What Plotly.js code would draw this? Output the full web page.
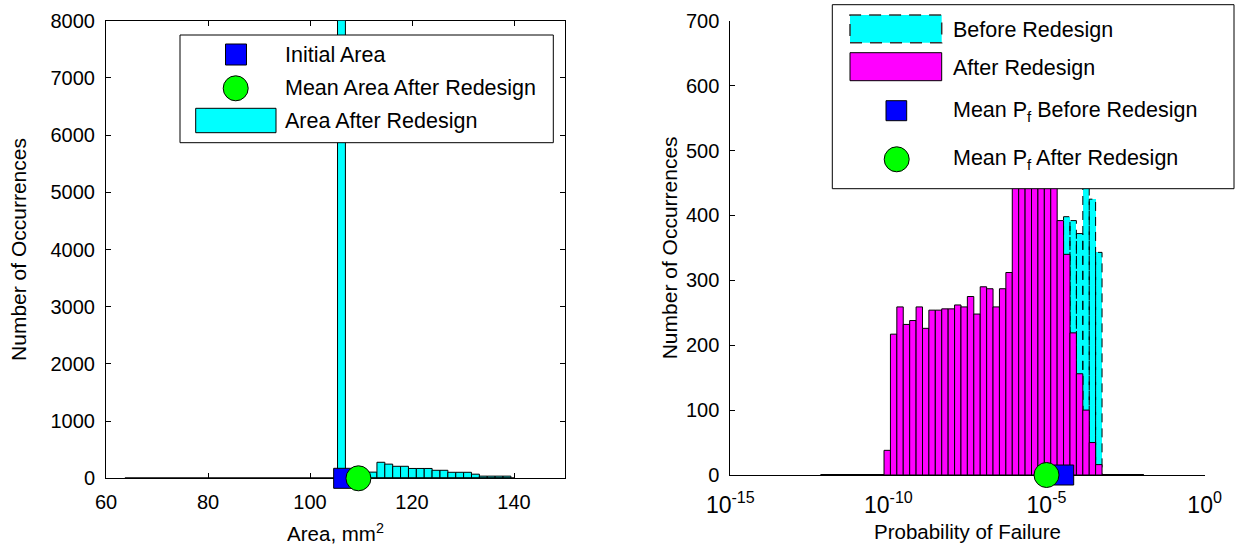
<!DOCTYPE html>
<html>
<head>
<meta charset="utf-8">
<script src="https://cdn.plot.ly/plotly-3.0.1.min.js"></script>
<style>html,body{margin:0;padding:0;background:#fff;}#chart{width:1239px;height:548px;}</style>
</head>
<body>
<div id="chart"></div>
<script>
// ---------------- DATA ----------------
// Left: histogram of area after redesign (bin centres, mm^2) and counts
const areaBinCenters = [106.17, 107.72, 109.26, 110.81, 112.35, 113.90, 115.44, 116.99, 118.53, 120.08, 121.62,
                        123.17, 124.71, 126.26, 127.80, 129.35, 130.89, 132.44, 133.98, 135.53, 137.07, 138.62];
const areaCounts = [9500, 60, 80, 95, 108, 280, 248, 210, 210, 172, 172,
                    172, 140, 140, 105, 105, 105, 72, 38, 38, 38, 38];
const areaBinWidth = 1.545;
const areaHistSpan = [63.7, 140.0];      // extent of (mostly empty) histogram bins
const initialArea = 106.6;
const meanAreaAfter = 109.5;

// Right: histogram of log10(Pf) (bin centres as exponents) and counts
const pfBinCentersExp = [-10.037, -9.834, -9.632, -9.429, -9.226, -9.023, -8.820, -8.618, -8.415, -8.212,
                         -8.009, -7.806, -7.604, -7.401, -7.198, -6.995, -6.792, -6.590, -6.387, -6.184,
                         -5.981, -5.778, -5.576, -5.373, -5.170, -4.967, -4.764, -4.562, -4.359, -4.156,
                         -3.953, -3.750, -3.548, -3.345];
const pfBinWidthExp = 0.2028;
const pfAfterCounts = [38, 217, 259, 232, 238, 259, 226, 254, 254, 256,
                       256, 262, 259, 275, 248, 290, 287, 259, 287, 312,
                       480, 510, 530, 545, 535, 505, 470, 392, 340, 219,
                       156, 100, 50, 16];
// Before redesign: only bins visible to the right of the magenta bars
const pfBeforeBinCentersExp = [-4.359, -4.156, -3.953, -3.750, -3.548, -3.345];
const pfBeforeCounts = [398, 392, 372, 460, 425, 343];
const pfHistSpanExp = [-12.15, -1.92];
const meanPfBefore = 3.5e-5;
const meanPfAfter = 1.0e-5;

const xTickAreas = [60, 80, 100, 120, 140];
const pfTickVals = [1e-15, 1e-10, 1e-5, 1];
const pfTickText = ['10<sup>-15</sup>', '10<sup>-10</sup>', '10<sup>-5</sup>', '10<sup>0</sup>'];

// ---------------- STYLE / LAYOUT ----------------
const W = 1239, H = 548;
const X = v => v / W;
const Y = v => 1 - v / H;
const FONT = 'Liberation Sans, Arial, Helvetica, sans-serif';
const CYAN = '#00FFFF', MAGENTA = '#FF00FF', BLUE = '#0000FF', GREEN = '#00FF00';
const LEG = 21.5;

// convert exponent bins to linear edges for the log axis
function logBars(centersExp, wExp) {
  const xs = [], ws = [], L = [], R = [];
  centersExp.forEach(c => {
    const l = Math.pow(10, c - wExp / 2), r = Math.pow(10, c + wExp / 2);
    xs.push((l + r) / 2); ws.push(r - l); L.push(l); R.push(r);
  });
  return {xs, ws, L, R};
}
const after = logBars(pfBinCentersExp, pfBinWidthExp);
const before = logBars(pfBeforeBinCentersExp, pfBinWidthExp);

// dashed outline for "before" bars
const outX = [], outY = [];
pfBeforeCounts.forEach((h, i) => {
  outX.push(before.L[i], before.L[i], before.R[i], before.R[i], null);
  outY.push(0, h, h, 0, null);
});

const traces = [
  // left
  {type: 'bar', x: areaBinCenters, y: areaCounts, width: areaBinWidth, xaxis: 'x', yaxis: 'y',
   marker: {color: CYAN, line: {color: '#000', width: 1}}, showlegend: false},
  {type: 'scatter', mode: 'lines', x: areaHistSpan, y: [0, 0], xaxis: 'x', yaxis: 'y',
   line: {color: '#000', width: 2}, showlegend: false, hoverinfo: 'skip'},
  {type: 'scatter', mode: 'markers', x: [initialArea], y: [0], xaxis: 'x', yaxis: 'y', cliponaxis: false,
   marker: {symbol: 'square', size: 20, color: BLUE, line: {color: '#000', width: 1}}, showlegend: false},
  {type: 'scatter', mode: 'markers', x: [meanAreaAfter], y: [0], xaxis: 'x', yaxis: 'y', cliponaxis: false,
   marker: {symbol: 'circle', size: 25, color: GREEN, line: {color: '#000', width: 1}}, showlegend: false},
  // right, base layer (before redesign)
  {type: 'bar', x: before.xs, y: pfBeforeCounts, width: before.ws, xaxis: 'x2', yaxis: 'y2',
   marker: {color: CYAN, line: {width: 0}}, showlegend: false},
  {type: 'scatter', mode: 'lines', x: outX, y: outY, xaxis: 'x2', yaxis: 'y2', connectgaps: false,
   line: {color: '#000', width: 1, dash: '9px,6px'}, showlegend: false, hoverinfo: 'skip'},
  {type: 'scatter', mode: 'lines', x: pfHistSpanExp.map(e => Math.pow(10, e)), y: [0, 0], xaxis: 'x2', yaxis: 'y2',
   line: {color: '#000', width: 2}, showlegend: false, hoverinfo: 'skip'},
  // right, overlay layer (after redesign + means)
  {type: 'bar', x: after.xs, y: pfAfterCounts, width: after.ws, xaxis: 'x3', yaxis: 'y3',
   marker: {color: MAGENTA, line: {color: '#000', width: 1}}, showlegend: false},
  {type: 'scatter', mode: 'markers', x: [meanPfBefore], y: [0], xaxis: 'x3', yaxis: 'y3', cliponaxis: false,
   marker: {symbol: 'square', size: 20, color: BLUE, line: {color: '#000', width: 1}}, showlegend: false},
  {type: 'scatter', mode: 'markers', x: [meanPfAfter], y: [0], xaxis: 'x3', yaxis: 'y3', cliponaxis: false,
   marker: {symbol: 'circle', size: 25, color: GREEN, line: {color: '#000', width: 1}}, showlegend: false}
];

const axBase = {
  showgrid: false, zeroline: false, showline: true, linecolor: '#000', linewidth: 1,
  ticks: 'inside', ticklen: 5, tickcolor: '#000', tickwidth: 1,
  tickfont: {family: FONT, size: 20, color: '#000'}, automargin: false, fixedrange: true
};

const layout = {
  width: W, height: H,
  margin: {l: 0, r: 0, t: 0, b: 0, pad: 0},
  paper_bgcolor: '#fff', plot_bgcolor: 'rgba(0,0,0,0)',
  font: {family: FONT, size: 20, color: '#000'},
  barmode: 'overlay', bargap: 0,
  showlegend: false,
  xaxis: Object.assign({}, axBase, {
    domain: [X(106), X(565)], range: [60, 150], tickvals: xTickAreas, anchor: 'y', mirror: 'ticks',
    layer: 'below traces', ticklabelstandoff: 6,
    title: {text: 'Area, mm<sup>2</sup>', font: {family: FONT, size: 20.5}, standoff: 14}
  }),
  yaxis: Object.assign({}, axBase, {
    domain: [Y(478.3), Y(20.7)], range: [0, 8000], dtick: 1000, anchor: 'x', mirror: 'ticks',
    ticklabelstandoff: 6,
    title: {text: 'Number of Occurrences', font: {family: FONT, size: 21}, standoff: 18}
  }),
  xaxis2: Object.assign({}, axBase, {
    domain: [X(730.3), X(1204.6)], type: 'log', range: [-15, 0], tickvals: pfTickVals, ticktext: pfTickText,
    tickfont: {family: FONT, size: 23, color: '#000'},
    anchor: 'y2', layer: 'below traces', ticklabelstandoff: 9,
    title: {text: 'Probability of Failure', font: {family: FONT, size: 20.5}, standoff: 8}
  }),
  yaxis2: Object.assign({}, axBase, {
    domain: [Y(475), Y(20.7)], range: [0, 700], dtick: 100, anchor: 'x2', ticklabelstandoff: 6,
    title: {text: 'Number of Occurrences', font: {family: FONT, size: 21}, standoff: 2}
  }),
  xaxis3: {overlaying: 'x2', type: 'log', range: [-15, 0], visible: false, anchor: 'y3', fixedrange: true},
  yaxis3: {overlaying: 'y2', range: [0, 700], visible: false, anchor: 'x3', fixedrange: true},
  shapes: [],
  annotations: []
};

function rect(x0, x1, y0, y1, fill, line) {
  return {type: 'rect', xref: 'paper', yref: 'paper', x0: X(x0), x1: X(x1), y0: Y(y1), y1: Y(y0),
          fillcolor: fill, line: line || {color: '#000', width: 1}, layer: 'above'};
}
function circ(cx, cy, d, fill) {
  return {type: 'circle', xref: 'paper', yref: 'paper', x0: X(cx - d / 2), x1: X(cx + d / 2),
          y0: Y(cy + d / 2), y1: Y(cy - d / 2), fillcolor: fill, line: {color: '#000', width: 1}, layer: 'above'};
}
function label(text, x, y) {
  return {text: text, xref: 'paper', yref: 'paper', x: X(x), y: Y(y), xanchor: 'left', yanchor: 'middle',
          showarrow: false, font: {family: FONT, size: LEG, color: '#000'}};
}

// left legend
layout.shapes.push(rect(180, 553.3, 35, 142.7, '#fff'));
layout.shapes.push(rect(225.5, 246.5, 44, 65, BLUE));
layout.shapes.push(circ(235.7, 88.3, 25, GREEN));
layout.shapes.push(rect(195.7, 276, 108.3, 132.7, CYAN));
layout.annotations.push(label('Initial Area', 283, 55));
layout.annotations.push(label('Mean Area After Redesign', 283, 88.3));
layout.annotations.push(label('Area After Redesign', 283, 121));

// right legend
layout.shapes.push(rect(832.3, 1234, 4.7, 188.7, '#fff'));
layout.shapes.push(rect(850, 941.7, 15, 42.7, CYAN, {color: '#333', width: 1.5, dash: '12px,8px'}));
layout.shapes.push(rect(850, 941.7, 52.7, 80.7, MAGENTA));
layout.shapes.push(rect(886, 906.7, 100.7, 120.7, BLUE));
layout.shapes.push(circ(896.7, 159.3, 25, GREEN));
layout.annotations.push(label('Before Redesign', 951, 30));
layout.annotations.push(label('After Redesign', 951, 68.3));
layout.annotations.push(label('Mean P<sub>f</sub> Before Redesign', 951, 112));
layout.annotations.push(label('Mean P<sub>f</sub> After Redesign', 951, 159));

Plotly.newPlot('chart', traces, layout, {displayModeBar: false, staticPlot: true});
</script>
</body>
</html>
